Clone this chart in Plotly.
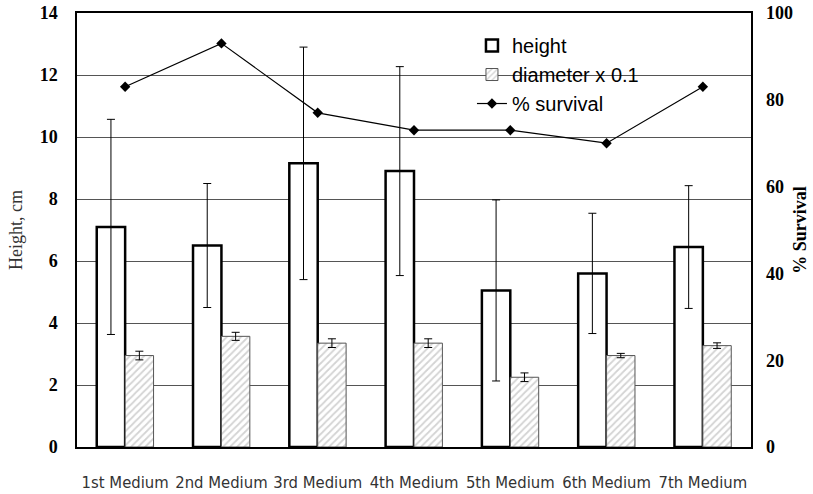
import plotly.graph_objects as go

categories = ["1st Medium", "2nd Medium", "3rd Medium", "4th Medium",
              "5th Medium", "6th Medium", "7th Medium"]
height = [7.1, 6.5, 9.15, 8.9, 5.05, 5.6, 6.45]
height_err = [3.47, 2.0, 3.75, 3.37, 2.92, 1.94, 1.98]
diameter = [2.95, 3.57, 3.35, 3.35, 2.25, 2.95, 3.27]
diameter_err = [0.14, 0.13, 0.14, 0.14, 0.14, 0.07, 0.09]
survival = [83, 93, 77, 73, 73, 70, 83]

left_ticks = [0, 2, 4, 6, 8, 10, 12, 14]
right_ticks = [0, 20, 40, 60, 80, 100]

fig = go.Figure()
fig.add_trace(go.Bar(
    x=categories, y=height, name="height",
    marker=dict(color="white", line=dict(color="black", width=2.5)),
    error_y=dict(type="data", array=height_err, color="black", thickness=1, width=4),
))
fig.add_trace(go.Bar(
    x=categories, y=diameter, name="diameter x 0.1",
    marker=dict(color="white", line=dict(color="#555555", width=1),
                pattern=dict(shape="/", fgcolor="#a8a8a8", bgcolor="white", size=5, solidity=0.35)),
    error_y=dict(type="data", array=diameter_err, color="black", thickness=1, width=4),
))
fig.add_trace(go.Scatter(
    x=categories, y=survival, name="% survival", yaxis="y2",
    mode="lines+markers",
    line=dict(color="black", width=1.2),
    marker=dict(symbol="diamond", size=8, color="black"),
))

serif = "Liberation Serif, Times New Roman, serif"
fig.update_layout(
    width=813, height=494,
    margin=dict(l=77, r=62, t=13, b=47, autoexpand=False),
    paper_bgcolor="white", plot_bgcolor="white",
    barmode="group", bargap=0.41, bargroupgap=0,
    showlegend=True,
    legend=dict(x=0.586, y=0.97, xanchor="left", yanchor="top",
                bgcolor="rgba(0,0,0,0)", font=dict(family="Liberation Sans, Arial", size=20, color="black"),
                tracegroupgap=0, itemwidth=30),
    xaxis=dict(
        showline=True, linecolor="black", linewidth=1.5, mirror=True,
        ticks="", ticklabelstandoff=19, automargin=False,
        tickfont=dict(family="DejaVu Sans Condensed, DejaVu Sans", size=16.5, color="#333333"),
    ),
    yaxis=dict(
        range=[0, 14], tickvals=left_ticks, showgrid=True, gridcolor="#555555", gridwidth=1,
        showline=True, linecolor="black", linewidth=1.5, mirror=True,
        ticks="", ticklabelstandoff=14, zeroline=False, automargin=False,
        tickfont=dict(family=serif, size=18, color="black", weight="bold"),
        title=dict(text="Height, cm", font=dict(family=serif, size=18, color="#333333"), standoff=12),
    ),
    yaxis2=dict(
        range=[0, 100], tickvals=right_ticks, overlaying="y", side="right",
        showgrid=False, zeroline=False, ticks="", ticklabelstandoff=14, automargin=False,
        tickfont=dict(family=serif, size=18, color="black", weight="bold"),
        title=dict(text="% Survival", font=dict(family=serif, size=18, color="black", weight="bold"), standoff=1),
    ),
)

fig.write_html("out.html", config={"displayModeBar": False},
               post_script="document.body.style.margin='0';")
